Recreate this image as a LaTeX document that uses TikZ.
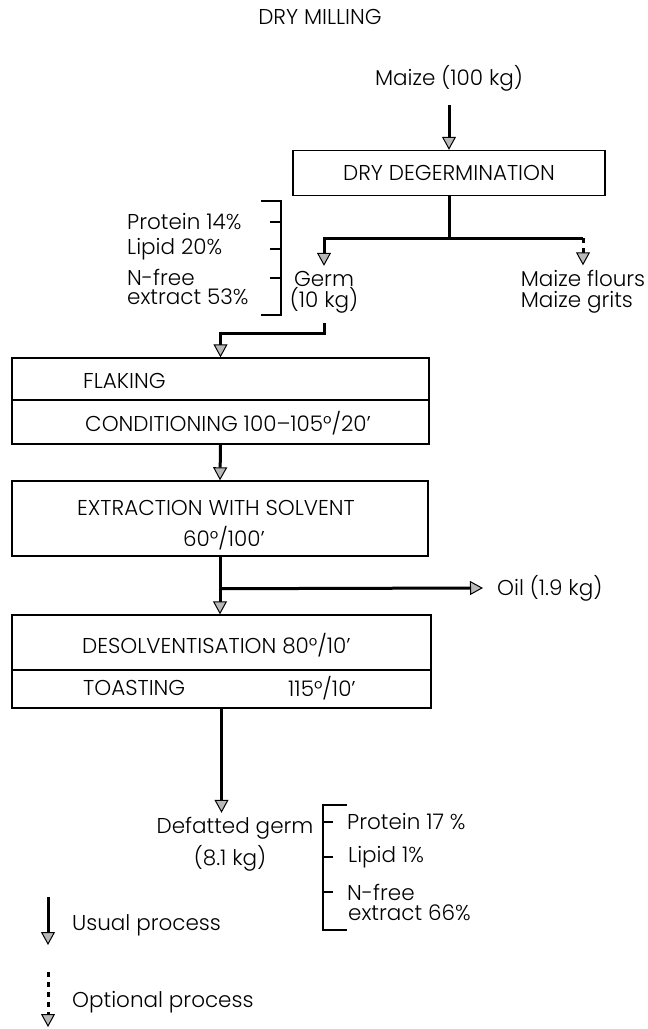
\documentclass[tikz,border=0pt]{standalone}
\usepackage{fontspec}
\setmainfont{Poppins}[UprightFont={* Light}]
\usetikzlibrary{arrows.meta}
\begin{document}
\begin{tikzpicture}[x=1pt,y=-1pt,
  every node/.style={font=\fontsize{21.5}{21}\selectfont, inner sep=0pt},
  box/.style={draw, line width=1.4pt, inner sep=0pt},
  thickline/.style={line width=3pt},
  flow/.style={thickline, -{Triangle[width=14pt,length=13pt,line width=1pt,fill=gray!55]}},
  opt/.style={flow, dash pattern=on 5pt off 5pt},
  brk/.style={line width=1.2pt},
  lbl/.style={anchor=west},
]
\useasboundingbox (0,0) rectangle (648,1029);

% title and input
\node (title) at (320,17) {DRY MILLING};
\node (maize) at (449,78) {Maize (100 kg)};

% dry degermination
\node[box, minimum width=312pt, minimum height=45pt] (deg) at (449,173) {DRY DEGERMINATION};
\draw[flow] ([yshift=-14pt]maize.south) -- (deg.north);

% products
\node[align=center] (germ) at (324,292) {Germ\\(10 kg)};
\node[align=left] (flours) at (583,292) {Maize flours\\Maize grits};
\draw[thickline] (deg.south) -- ++(0,42) coordinate (split);
\draw[flow] (split) -| ([yshift=5pt]germ.north);
\draw[thickline] (split) -- (split -| flours.north) coordinate (fl);
\draw[opt] (fl) -- ([yshift=5pt]flours.north);

% germ composition (left)
\node[lbl] (p14) at (127,222) {Protein 14\%};
\node[lbl] (l20) at (127,249) {Lipid 20\%};
\node[lbl] (nf1) at (127,277) {N-free};
\node[lbl] (ex53) at (127,297) {extract 53\%};
\draw[brk] (261,201) -- (281,201) -- (281,315) -- (261,315);
\draw[brk] (270,222) -- (281,222);
\draw[brk] (270,249) -- (281,249);
\draw[brk] (270,278) -- (281,278);

% flaking / conditioning
\node[box, minimum width=417pt, minimum height=86pt] (b2) at (220.5,401) {};
\draw[line width=1.4pt] (12,400) -- (429,400);
\node[lbl] (flak) at (83,381) {FLAKING};
\node[lbl] (cond) at (85,423) {CONDITIONING 100–105°/20'};
\draw[flow] ([yshift=-10pt]germ.south) -- ++(0,10) -| (b2.north);

% extraction
\node[box, minimum width=416pt, minimum height=75pt] (b3) at (220,518.5) {};
\node (ext) at (216,508) {EXTRACTION WITH SOLVENT};
\node (ext2) at (224,538) {60°/100'};
\draw[flow] (b2.south) -- (b3.north);

% desolventisation / toasting
\node[box, minimum width=419pt, minimum height=93pt] (b4) at (221.5,661.5) {};
\draw[line width=1.4pt] (12,670) -- (431,670);
\node[lbl] (desol) at (82,645) {DESOLVENTISATION 80°/10'};
\node[lbl] (toast) at (83,688) {TOASTING};
\node[lbl] (toastT) at (288,688) {115°/10'};

\draw[thickline] (b3.south) -- ++(0,32) coordinate (oilsplit);
\draw[flow] (oilsplit) -- (oilsplit |- b4.north);
\node[lbl] (oil) at (497,588) {Oil (1.9 kg)};
\draw[flow] (oilsplit) -- ([xshift=-14pt]oil.west);

% defatted germ
\node (def) at (235,828) {Defatted germ};
\node (defkg) at (230,858) {(8.1 kg)};
\draw[flow, shorten >=4pt] (b4.south) -- (b4.south |- def.north);

% defatted germ composition (right)
\draw[brk] (347,805) -- (323,805) -- (323,930) -- (347,930);
\draw[brk] (323,822) -- (333,822);
\draw[brk] (323,857) -- (333,857);
\draw[brk] (323,892) -- (333,892);
\node[lbl] (p17) at (347,822) {Protein 17 \%};
\node[lbl] (l1) at (348,857) {Lipid 1\%};
\node[lbl] (nf2) at (347,892) {N-free};
\node[lbl] (ex66) at (348,913) {extract 66\%};

% legend
\coordinate (u1) at (48,897);
\coordinate (u2) at (48,945);
\coordinate (o1) at (48,972);
\coordinate (o2) at (48,1027);
\draw[flow] (u1) -- (u2);
\node[lbl] (usual) at (72,925) {Usual process};
\draw[opt] (o1) -- (o2);
\node[lbl] (optl) at (72,1002) {Optional process};
\end{tikzpicture}
\end{document}
